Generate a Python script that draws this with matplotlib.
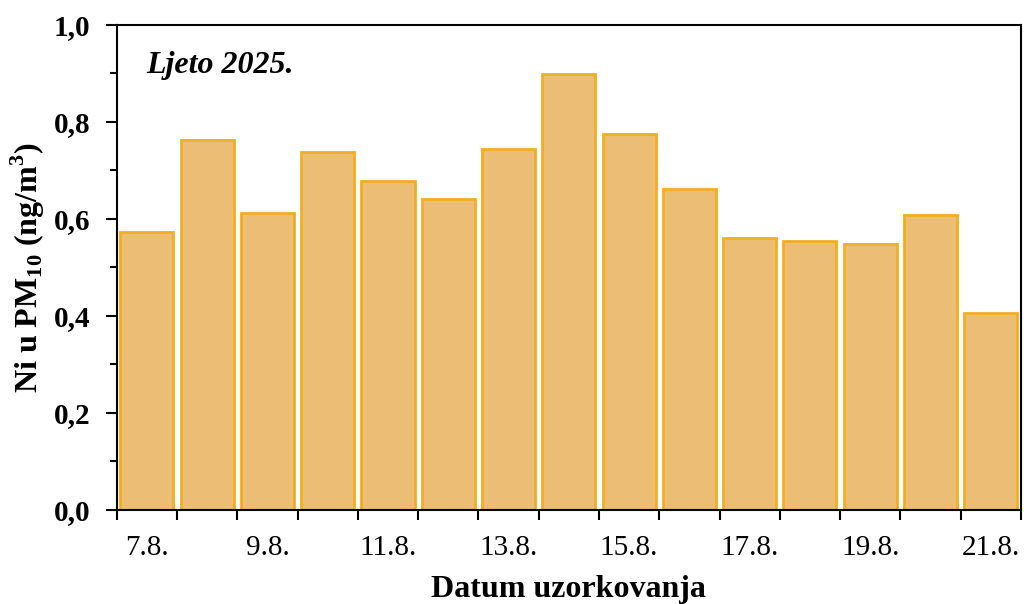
import matplotlib
matplotlib.use("Agg")
import matplotlib.pyplot as plt
from matplotlib.ticker import MultipleLocator, FixedLocator

# data
datumi = ["7.8.", "8.8.", "9.8.", "10.8.", "11.8.", "12.8.", "13.8.", "14.8.",
          "15.8.", "16.8.", "17.8.", "18.8.", "19.8.", "20.8.", "21.8."]
ni_pm10 = [0.573, 0.763, 0.612, 0.738, 0.678, 0.641, 0.744, 0.899,
           0.775, 0.662, 0.561, 0.555, 0.548, 0.608, 0.406]

plt.rcParams['font.family'] = ['Liberation Serif', 'DejaVu Serif']
plt.rcParams['mathtext.fontset'] = 'custom'
plt.rcParams['mathtext.rm'] = 'Liberation Serif'
plt.rcParams['mathtext.bf'] = 'Liberation Serif:bold'

fig = plt.figure(figsize=(10.24, 6.04), dpi=100)
ax = fig.add_axes([0.114, 0.156, 0.883, 0.803])

x = list(range(len(datumi)))
ax.bar(x, ni_pm10, width=0.88, color='#ECBD74', edgecolor='#F2AE22', linewidth=2)

ax.set_xlim(-0.5, len(datumi) - 0.5)

# ticks between bars, labels on every other bar
ax.xaxis.set_major_locator(FixedLocator([i + 0.5 for i in range(-1, len(datumi))]))
ax.set_xticklabels([])
ax.xaxis.set_minor_locator(FixedLocator(x[::2]))
ax.set_xticklabels(datumi[::2], minor=True)
ax.tick_params(axis='x', which='major', direction='out', length=7, width=1.5)
ax.tick_params(axis='x', which='minor', length=0, pad=18, labelsize=21)

yt = [0.0, 0.2, 0.4, 0.6, 0.8, 1.0]
ax.set_yticks(yt)
ax.set_yticklabels([f"{v:.1f}".replace('.', ',') for v in yt], fontweight='bold')
ax.yaxis.set_minor_locator(MultipleLocator(0.1))
ax.tick_params(axis='y', which='major', direction='out', length=8, width=1.5,
               labelsize=21, pad=11)
ax.tick_params(axis='y', which='minor', direction='out', length=5, width=1.5)
ax.set_ylim(0, 1.0)

for s in ax.spines.values():
    s.set_linewidth(1.5)

ax.set_xlabel("Datum uzorkovanja", fontsize=23, fontweight='bold', labelpad=10)
ax.set_ylabel(r"Ni u PM$_{\mathbf{10}}$ (ng/m$^{\mathbf{3}}$)", fontsize=23,
              fontweight='bold', labelpad=5)

ax.text(0.033, 0.915, "Ljeto 2025.", transform=ax.transAxes, fontsize=23,
        fontweight='bold', fontstyle='italic', va='center')

fig.savefig("out.png", dpi=100)
